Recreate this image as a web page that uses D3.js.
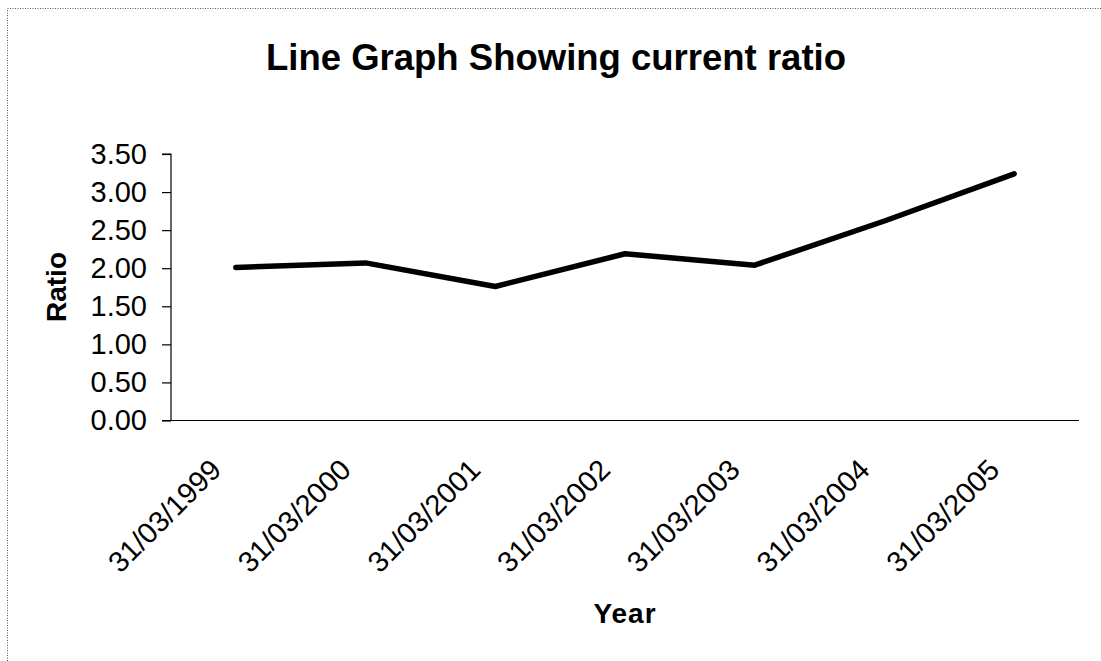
<!DOCTYPE html>
<html>
<head>
<meta charset="utf-8">
<script src="https://cdn.jsdelivr.net/npm/d3@7"></script>
<style>
  html, body { margin: 0; padding: 0; background: #fff; }
  svg { display: block; }
  text { font-family: "Liberation Sans", Arial, sans-serif; fill: #000; }
</style>
</head>
<body>
<svg id="chart" width="1101" height="661"></svg>
<script>
// Current ratio at each year end
const years = ["31/03/1999", "31/03/2000", "31/03/2001", "31/03/2002", "31/03/2003", "31/03/2004", "31/03/2005"];
const ratios = [2.01, 2.07, 1.76, 2.19, 2.04, 2.62, 3.24];
const yTicks = [0, 0.5, 1, 1.5, 2, 2.5, 3, 3.5];

const svg = d3.select("#chart");

// dotted frame round the chart
svg.append("rect")
  .attr("x", 7.5).attr("y", 8.5)
  .attr("width", 1100).attr("height", 660)
  .attr("fill", "none")
  .attr("stroke", "#555")
  .attr("stroke-width", 1)
  .attr("stroke-dasharray", "1,1.5");

const plot = { left: 171, right: 1079, top: 154, bottom: 420.5 };

const x = d3.scaleBand().domain(years).range([plot.left, plot.right]);
const y = d3.scaleLinear().domain([0, 3.5]).range([plot.bottom, plot.top]);

// title
svg.append("text")
  .attr("x", 556).attr("y", 70)
  .attr("text-anchor", "middle")
  .attr("font-size", 36.5)
  .attr("font-weight", "bold")
  .text("Line Graph Showing current ratio");

// y axis
const yAxis = d3.axisLeft(y)
  .tickValues(yTicks)
  .tickFormat(d3.format(".2f"))
  .tickSize(9)
  .tickPadding(15);
const gy = svg.append("g")
  .attr("transform", `translate(${plot.left},0)`)
  .call(yAxis);
gy.select(".domain").attr("stroke", "#000").attr("stroke-width", 1.2).attr("d", `M-9,${plot.top}H0V${plot.bottom}`);
gy.selectAll(".tick line").attr("stroke", "#000").attr("stroke-width", 1.2);
gy.selectAll(".tick text")
  .attr("font-size", 29)
  .attr("font-family", "Liberation Sans, Arial, sans-serif")
  .attr("fill", "#000");

// x axis
const xAxis = d3.axisBottom(x).tickSize(0).tickFormat("");
const gx = svg.append("g")
  .attr("transform", `translate(0,${plot.bottom})`)
  .call(xAxis);
gx.select(".domain").attr("stroke", "#000").attr("stroke-width", 1.2).attr("d", `M${plot.left - 9},0H${plot.right}`);

// rotated category labels
svg.append("g").selectAll("text")
  .data(years)
  .join("text")
  .attr("transform", d => `translate(${x(d) + x.bandwidth() / 2 - 13},${plot.bottom + 51}) rotate(-45)`)
  .attr("text-anchor", "end")
  .attr("font-size", 29)
  .text(d => d);

// axis titles
svg.append("text")
  .attr("transform", "translate(66,287) rotate(-90)")
  .attr("text-anchor", "middle")
  .attr("font-size", 28)
  .attr("font-weight", "bold")
  .text("Ratio");

svg.append("text")
  .attr("x", (plot.left + plot.right) / 2).attr("y", 623)
  .attr("text-anchor", "middle")
  .attr("font-size", 28)
  .attr("font-weight", "bold")
  .attr("letter-spacing", 1)
  .text("Year");

// ratio line
const line = d3.line()
  .x((d, i) => x(years[i]) + x.bandwidth() / 2)
  .y(d => y(d));

svg.append("path")
  .datum(ratios)
  .attr("d", line)
  .attr("fill", "none")
  .attr("stroke", "#000")
  .attr("stroke-width", 5.5)
  .attr("stroke-linejoin", "round")
  .attr("stroke-linecap", "round");
</script>
</body>
</html>
